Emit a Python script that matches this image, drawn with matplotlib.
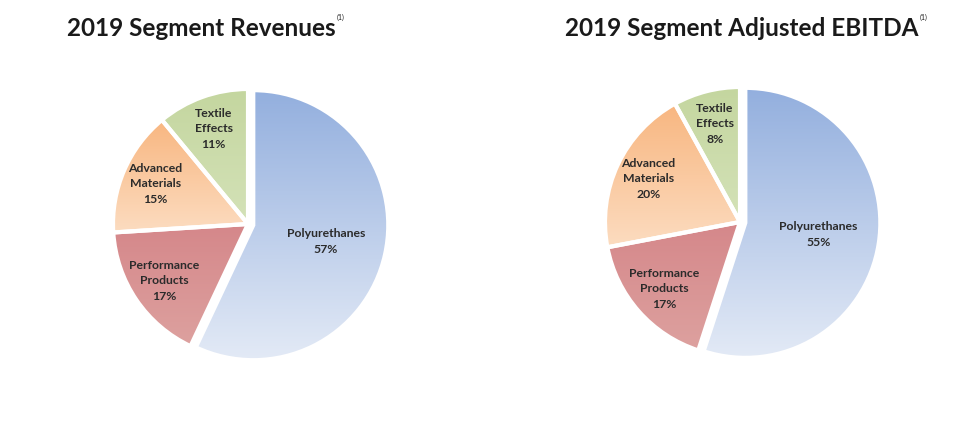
import numpy as np
import matplotlib.pyplot as plt
from matplotlib.colors import to_rgb

# data
segments = ['Polyurethanes', 'Performance\nProducts', 'Advanced\nMaterials', 'Textile\nEffects']
revenues = [57, 17, 15, 11]
ebitda = [55, 17, 20, 8]

# top / bottom gradient colours for each slice
top_cols = ['#93AFDE', '#D5878A', '#F8B680', '#C4D69F']
bot_cols = ['#E3EAF6', '#DDA19F', '#FCDCC0', '#D4E2B8']

plt.rcParams['font.family'] = ['Lato', 'DejaVu Sans']

fig = plt.figure(figsize=(9.72, 4.46), dpi=100)
W, H = 972, 446


def grad_pie(ax, vals):
    explode = [0.04, 0, 0, 0]
    wedges, _ = ax.pie(vals, startangle=90, counterclock=False, explode=explode,
                       wedgeprops=dict(facecolor='none', edgecolor='white', linewidth=3, zorder=3))
    for i, w in enumerate(wedges):
        # vertical gradient clipped to the wedge
        th = np.linspace(np.radians(w.theta1), np.radians(w.theta2), 50)
        cx, cy = w.center
        xs = np.r_[cx, cx + np.cos(th)]
        ys = np.r_[cy, cy + np.sin(th)]
        c0, c1 = np.array(to_rgb(top_cols[i])), np.array(to_rgb(bot_cols[i]))
        t = np.linspace(0, 1, 256)[:, None]
        img = (c0 * (1 - t) + c1 * t)[:, None, :]
        im = ax.imshow(img, extent=[xs.min(), xs.max(), ys.min(), ys.max()],
                       origin='upper', aspect='auto', zorder=1)
        im.set_clip_path(w)
        # label
        mid = np.radians((w.theta1 + w.theta2) / 2)
        r = 0.55 if i == 0 else 0.75
        ax.text(cx + r * np.cos(mid), cy + r * np.sin(mid),
                f'{segments[i]}\n{vals[i]}%', ha='center', va='center',
                fontsize=8.8, fontweight='bold', color='#2b2b2b', linespacing=1.5, zorder=4)
    ax.set_xlim(-1.2, 1.2)
    ax.set_ylim(-1.2, 1.2)
    ax.set_aspect('equal')
    ax.axis('off')


r_px = 135
s = 2.4 * r_px
ax1 = fig.add_axes([(248 - s / 2) / W, (H - 224 - s / 2) / H, s / W, s / H])
grad_pie(ax1, revenues)
ax2 = fig.add_axes([(740 - s / 2) / W, (H - 222 - s / 2) / H, s / W, s / H])
grad_pie(ax2, ebitda)

for x0, title in [(67, '2019 Segment Revenues'), (565, '2019 Segment Adjusted EBITDA')]:
    t = fig.text(x0 / W, 1 - 28 / H, title, ha='left', va='center',
                 fontsize=17.5, fontweight='bold', color='#1a1a1a')
    ax1.annotate('(1)', xy=(1, 0.8), xycoords=t, xytext=(1, 0), textcoords='offset points',
                 ha='left', va='bottom', fontsize=5, color='#1a1a1a', annotation_clip=False)

plt.savefig('out.png', dpi=100)
